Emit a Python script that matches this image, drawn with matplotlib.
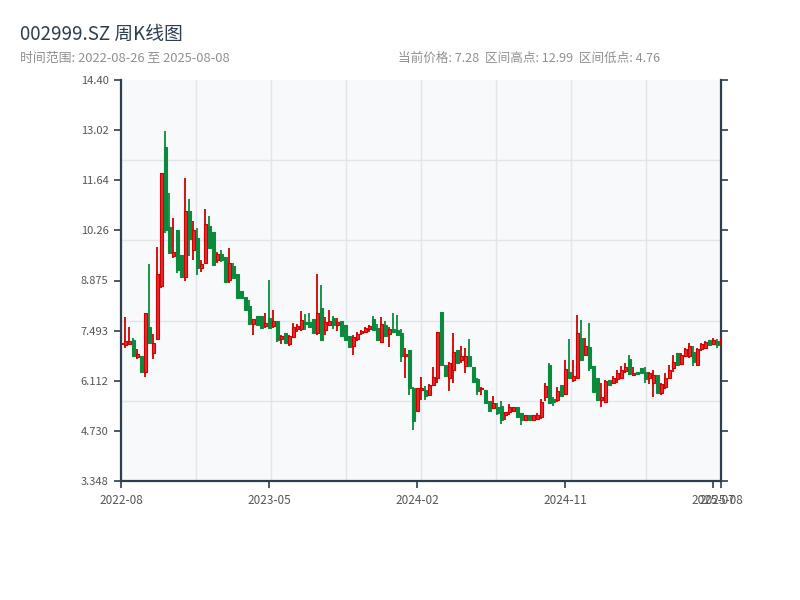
import numpy as np
import pandas as pd
import matplotlib
matplotlib.use("Agg")
import matplotlib.pyplot as plt

plt.rcParams['font.family'] = ['Noto Sans CJK SC', 'DejaVu Sans']

# weekly candles, 002999.SZ (red = up, green = down)
opens = [
    7.13, 7.10, 7.12, 7.23, 6.76, 6.79, 6.36, 7.60, 6.87, 7.27,
    8.73, 12.54, 10.36, 9.55, 10.27, 9.58, 8.98, 10.79, 9.71, 10.04,
    9.21, 9.37, 10.38, 10.20, 9.44, 9.60, 9.53, 8.89, 9.28, 9.05,
    8.59, 8.43, 8.17, 7.68, 7.90, 7.90, 7.62, 7.83, 7.62, 7.77,
    7.27, 7.44, 7.12, 7.33, 7.54, 7.53, 7.74, 7.74, 7.81, 7.44,
    8.11, 7.51, 7.65, 7.83, 7.65, 7.76, 7.65, 7.34, 7.07, 7.26,
    7.42, 7.45, 7.53, 7.80, 7.56, 7.19, 7.65, 7.40, 7.55, 7.51,
    7.44, 6.79, 6.96, 5.90, 5.29, 5.86, 5.86, 5.72, 5.99, 6.18,
    8.00, 6.55, 6.18, 6.42, 6.96, 6.68, 6.52, 6.79, 6.50, 6.16,
    5.87, 5.86, 5.54, 5.37, 5.40, 5.41, 5.17, 5.26, 5.29, 5.40,
    5.21, 5.03, 5.17, 5.03, 5.07, 5.10, 5.67, 6.55, 5.60, 5.58,
    5.99, 5.75, 6.36, 6.13, 6.20, 7.30, 6.82, 7.05, 6.52, 6.20,
    5.58, 5.53, 6.13, 6.04, 6.15, 6.20, 6.39, 6.70, 6.27, 6.36,
    6.45, 6.36, 6.18, 6.04, 6.27, 5.76, 5.93, 6.20, 6.45, 6.88,
    6.57, 6.79, 6.79, 6.91, 6.55, 6.98, 7.00, 7.23, 7.12, 7.22,
    7.12,
]
highs = [
    7.16, 7.86, 7.59, 7.28, 6.99, 6.80, 7.97, 9.33, 7.39, 9.81,
    11.85, 12.99, 11.28, 10.59, 10.27, 9.58, 11.69, 11.12, 10.51, 10.33,
    9.44, 10.85, 10.65, 10.20, 9.67, 9.71, 9.53, 9.76, 9.35, 9.05,
    8.59, 8.43, 8.34, 7.81, 7.90, 7.90, 7.97, 8.89, 8.06, 7.77,
    7.37, 7.44, 7.37, 7.69, 7.67, 8.03, 7.95, 7.99, 7.81, 9.05,
    8.75, 7.86, 8.06, 7.90, 7.83, 7.76, 7.65, 7.34, 7.37, 7.46,
    7.51, 7.58, 7.65, 7.90, 7.68, 7.86, 7.76, 7.60, 7.99, 7.92,
    7.53, 7.00, 6.96, 5.93, 5.91, 6.22, 5.97, 6.01, 6.50, 7.46,
    8.00, 6.55, 6.64, 7.42, 6.96, 7.07, 7.00, 7.25, 6.50, 6.20,
    5.95, 5.86, 5.54, 5.69, 5.49, 5.56, 5.26, 5.47, 5.40, 5.40,
    5.21, 5.17, 5.17, 5.17, 5.23, 5.60, 6.04, 6.61, 5.65, 5.93,
    5.99, 6.68, 7.25, 6.68, 7.92, 7.79, 7.28, 7.69, 6.52, 6.20,
    6.04, 6.13, 6.13, 6.24, 6.41, 6.52, 6.61, 6.82, 6.50, 6.36,
    6.45, 6.48, 6.36, 6.41, 6.27, 6.06, 6.32, 6.54, 6.82, 6.88,
    6.87, 7.00, 7.14, 7.07, 7.00, 7.14, 7.22, 7.23, 7.28, 7.25,
    7.31,
]
lows = [
    7.12, 7.02, 7.10, 6.79, 6.72, 6.36, 6.22, 7.14, 6.72, 7.27,
    8.66, 10.19, 9.64, 9.50, 9.07, 8.98, 8.87, 9.56, 9.44, 9.03,
    9.12, 9.37, 9.78, 9.30, 9.35, 9.39, 8.84, 8.80, 8.93, 8.38,
    8.38, 8.06, 7.68, 7.37, 7.65, 7.56, 7.57, 7.56, 7.56, 7.18,
    7.12, 7.16, 7.07, 7.33, 7.46, 7.49, 7.51, 7.60, 7.44, 7.37,
    7.22, 7.37, 7.63, 7.55, 7.49, 7.34, 7.23, 7.03, 6.82, 7.21,
    7.37, 7.42, 7.46, 7.50, 7.22, 7.14, 7.33, 7.03, 7.44, 7.34,
    6.64, 6.18, 5.72, 4.76, 5.29, 5.58, 5.58, 5.69, 5.97, 6.06,
    6.52, 6.24, 5.84, 6.06, 6.59, 6.59, 6.33, 6.52, 6.09, 5.72,
    5.72, 5.49, 5.29, 5.32, 5.17, 4.92, 5.03, 5.17, 5.26, 5.12,
    4.88, 5.03, 5.03, 5.03, 5.03, 5.07, 5.56, 5.47, 5.41, 5.53,
    5.69, 5.72, 6.20, 6.09, 6.18, 6.68, 6.82, 6.39, 5.81, 5.58,
    5.40, 5.51, 5.99, 6.02, 6.04, 6.15, 6.32, 6.27, 6.24, 6.30,
    6.32, 6.06, 6.02, 5.65, 5.78, 5.72, 5.88, 6.18, 6.36, 6.54,
    6.54, 6.77, 6.73, 6.53, 6.53, 6.94, 6.98, 7.10, 7.10, 7.00,
    7.03,
]
closes = [
    7.15, 7.20, 7.22, 6.79, 6.84, 6.36, 7.97, 7.14, 7.16, 9.04,
    11.83, 10.27, 9.64, 9.65, 9.16, 8.98, 10.79, 10.02, 10.27, 9.21,
    9.33, 10.43, 9.78, 9.30, 9.60, 9.45, 8.84, 9.37, 8.93, 8.38,
    8.38, 8.06, 7.68, 7.81, 7.65, 7.56, 7.71, 7.57, 7.77, 7.23,
    7.35, 7.16, 7.34, 7.60, 7.63, 7.79, 7.67, 7.60, 7.44, 7.97,
    7.24, 7.73, 7.76, 7.65, 7.74, 7.34, 7.23, 7.03, 7.33, 7.40,
    7.49, 7.56, 7.62, 7.52, 7.23, 7.68, 7.34, 7.55, 7.46, 7.37,
    6.79, 6.86, 5.90, 5.01, 5.90, 5.90, 5.69, 5.99, 6.22, 7.45,
    6.55, 6.24, 6.61, 6.89, 6.59, 6.80, 6.79, 6.52, 6.09, 5.84,
    5.91, 5.49, 5.29, 5.51, 5.23, 5.03, 5.24, 5.40, 5.38, 5.12,
    5.03, 5.17, 5.03, 5.17, 5.18, 5.53, 5.97, 5.51, 5.53, 5.84,
    5.69, 6.43, 6.20, 6.24, 7.42, 6.68, 7.07, 6.45, 5.81, 5.58,
    5.67, 6.11, 5.99, 6.20, 6.32, 6.40, 6.50, 6.30, 6.33, 6.30,
    6.32, 6.15, 6.32, 6.27, 5.78, 6.02, 6.18, 6.42, 6.64, 6.54,
    6.82, 6.98, 7.07, 6.64, 6.98, 7.12, 7.19, 7.10, 7.23, 7.10,
    7.28,
]

# weeks with no trading (national holidays) are not in the series
closed_weeks = ["2022-10-07", "2023-01-27", "2023-10-06", "2024-02-16"]
weeks = pd.date_range("2022-08-26", "2025-08-08", freq="W-FRI")
weeks = weeks[~weeks.isin(pd.to_datetime(closed_weeks))]

y_min, y_max = 3.348, 14.40
y_tick_labels = ["3.348", "4.730", "6.112", "7.493", "8.875",
                 "10.26", "11.64", "13.02", "14.40"]

title = "002999.SZ 周K线图"
subtitle_left = "时间范围: 2022-08-26 至 2025-08-08"
subtitle_right = "当前价格: 7.28  区间高点: 12.99  区间低点: 4.76"

UP = "#e52a2f"
UP_EDGE = "#cf0000"
DOWN = "#0a8a3c"
AXIS = "#2c3e50"
GRID = "#e2e5ea"

o = np.array(opens)
h = np.array(highs)
l = np.array(lows)
c = np.array(closes)
n = len(c)
x = np.arange(n)
up = c >= o

fig = plt.figure(figsize=(8, 6), dpi=100)
ax = fig.add_axes([121 / 800, 1 - 481 / 600, 600 / 800, 401 / 600])
ax.set_facecolor("#f7f9fb")

# split lines: 8 columns, 5 rows
for gx in np.linspace(0, n - 1, 9)[1:-1]:
    ax.axvline(gx, color=GRID, lw=1, zorder=0)
for gy in np.linspace(y_min, y_max, 6)[1:-1]:
    ax.axhline(gy, color=GRID, lw=1, zorder=0)

colors = np.where(up, UP, DOWN)
edges = np.where(up, UP_EDGE, DOWN)
ax.vlines(x, l, h, colors=edges, lw=1.3, zorder=2)
ax.bar(x, np.abs(c - o), bottom=np.minimum(o, c), width=0.75,
       color=colors, edgecolor=edges, linewidth=0.8, zorder=3)

ax.set_xlim(0, n - 1)
ax.set_ylim(y_min, y_max)

ticks = list(range(0, n, 37)) + [n - 1]
ax.set_xticks(ticks)
ax.set_xticklabels([weeks[t].strftime("%Y-%m") for t in ticks])
ax.set_yticks(np.linspace(y_min, y_max, 9))
ax.set_yticklabels(y_tick_labels)

ax.tick_params(axis="both", direction="out", length=5, width=1.2,
               color=AXIS, labelsize=8, labelcolor="#555555")
ax.tick_params(axis="x", labelsize=8.5, pad=4)
ax.tick_params(axis="y", right=True, pad=4)

for side in ["left", "bottom", "right"]:
    ax.spines[side].set_color(AXIS)
    ax.spines[side].set_linewidth(1.6)
ax.spines["top"].set_visible(False)

fig.text(20 / 800, 1 - 34 / 600, title, fontsize=13.5, color=AXIS, va="center")
fig.text(20 / 800, 1 - 58 / 600, subtitle_left, fontsize=9.3, color="#909090", va="center")
fig.text(398 / 800, 1 - 58 / 600, subtitle_right, fontsize=9.1, color="#909090", va="center")

fig.savefig("out.png", dpi=100)
plt.close(fig)
